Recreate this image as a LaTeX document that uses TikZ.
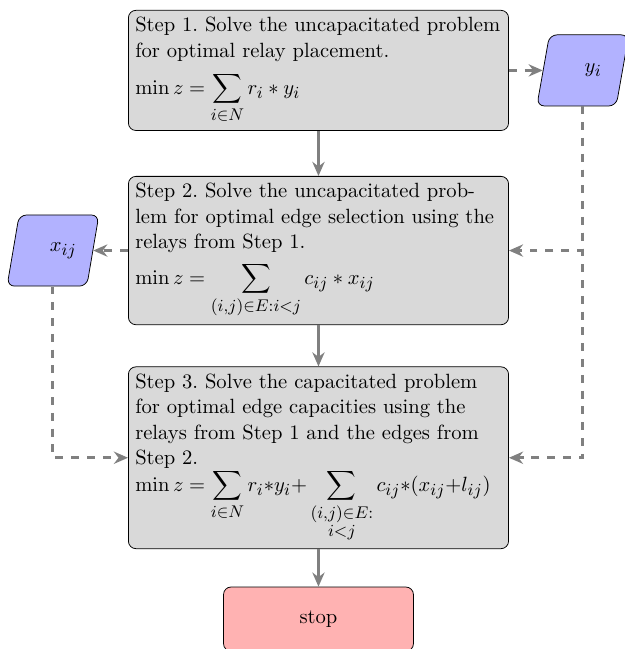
\documentclass[tikz,border=0pt,11pt]{standalone}
\usepackage{amsmath}
\usepackage{tikz}
\usetikzlibrary{arrows.meta,positioning,shapes.geometric}
\DeclareMathSizes{10.95}{10.95}{9}{7}
\frenchspacing

\begin{document}
\begin{tikzpicture}[
  node distance=24pt and 20pt,
  process/.style={draw=black,rounded corners,fill=gray!30,text width=6.85cm,align=left},
  stopbox/.style={draw=black,rounded corners,fill=red!30,minimum width=3.55cm,minimum height=1.2cm,align=center},
  io/.style={trapezium,trapezium left angle=70,trapezium right angle=110,trapezium stretches=true,draw=black,rounded corners,fill=blue!30,minimum height=1.33cm,minimum width=49pt,execute at begin node={\hspace*{11pt}}},
  arrow/.style={-{Stealth[length=7.5pt,width=6.5pt]},line width=1.6pt,color=gray},
  dasharrow/.style={arrow,dash pattern=on 4.2pt off 4.2pt}
]
\node[process] (step1) {Step 1. Solve the uncapacitated problem for optimal relay placement.\\[5pt]
  $\displaystyle\min z = \sum_{i\in N} r_i * y_i$};
\node[process,below=24pt of step1] (step2) {Step 2. Solve the uncapacitated prob-\\lem for optimal edge selection using the relays from Step 1.\\[4pt]
  $\displaystyle\min z = \sum_{(i,j)\in E:i<j} c_{ij} * x_{ij}$};
\node[process,below=22pt of step2] (step3) {Step 3. Solve the capacitated problem for optimal edge capacities using the relays from Step 1 and the edges from Step 2.\\[-0.5pt]
  $\displaystyle\min z = \sum_{i\in N} r_i{*}y_i{+}\sum_{\substack{(i,j)\in E:\\ i<j}} c_{ij}{*}(x_{ij}{+}l_{ij})$};
\node[stopbox,below=20pt of step3] (stop) {stop};
\node[io,right=18pt of step1] (yi) {$y_i$};
\node[io,left=18.5pt of step2] (xij) {$x_{ij}$};

% main flow
\draw[arrow] (step1) -- (step2);
\draw[arrow] (step2) -- (step3);
\draw[arrow] (step3) -- (stop);

% data in and out
\draw[dasharrow] (step1.east) -- (step1.east -| yi.west);
\draw[dasharrow] (yi.south) |- (step2.east);
\draw[dasharrow] (yi.south) |- (step3.east);
\draw[dasharrow] (step2.west) -- (xij.east);
\draw[dasharrow] (xij.south) |- (step3.west);

\pgfresetboundingbox
\useasboundingbox ([shift={(-68.1pt,5.3pt)}]step1.north west) rectangle ++(332.4pt,-345.2pt);
\end{tikzpicture}
\end{document}
